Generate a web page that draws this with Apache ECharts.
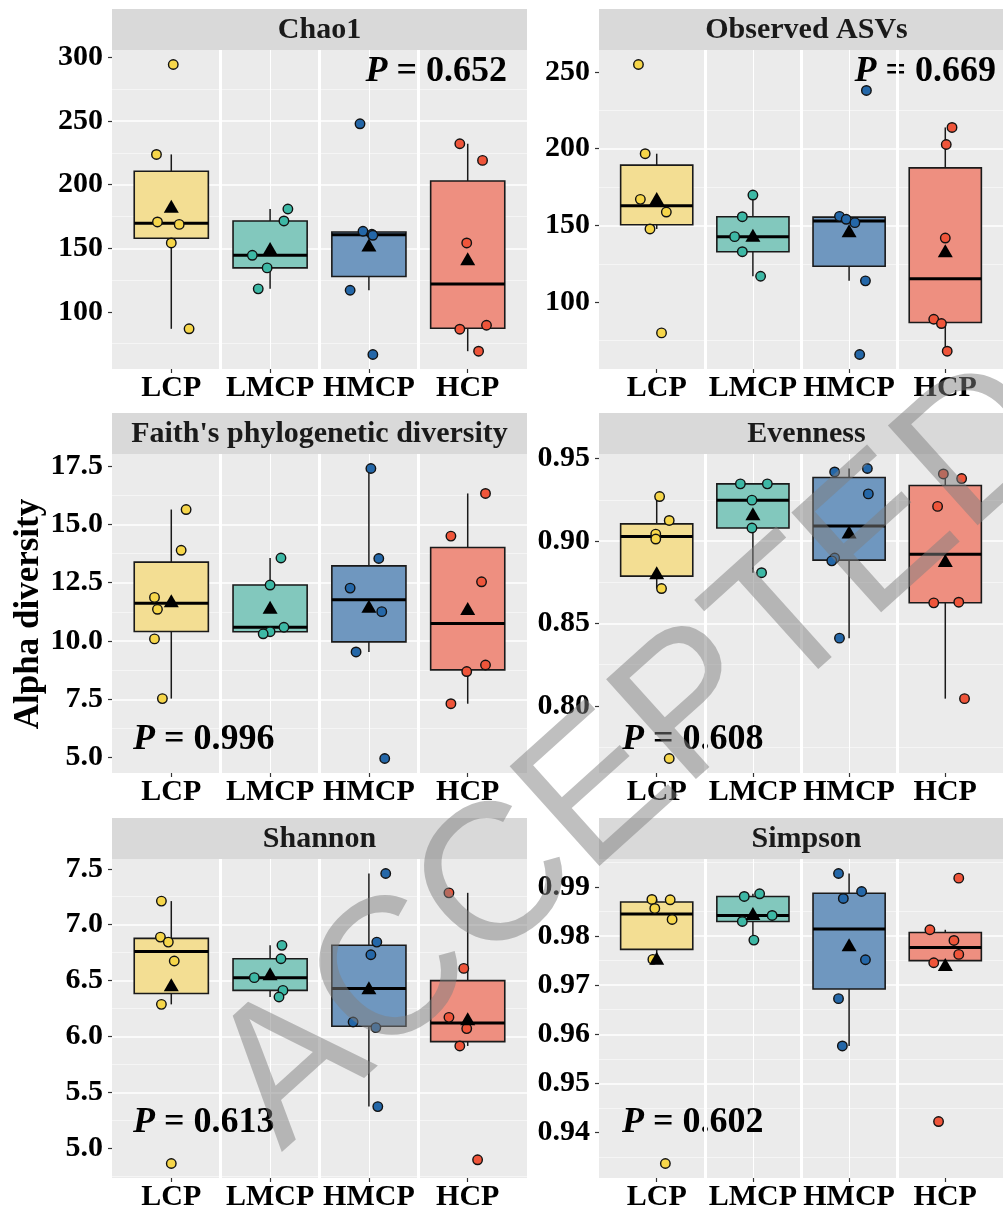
<!DOCTYPE html>
<html>
<head>
<meta charset="utf-8">
<script src="https://cdn.jsdelivr.net/npm/echarts@6/dist/echarts.min.js"></script>
<style>
  html, body { margin: 0; padding: 0; background: #fff; }
  #chart { width: 1003px; height: 1216px; }
</style>
</head>
<body>
<div id="chart"></div>
<script>
// groups on the x axis
const groups = ['LCP', 'LMCP', 'HMCP', 'HCP'];

// samples per group, and their horizontal jitter
const chao1 = [
  [294.5, 223.8, 170.7, 168.8, 154.2, 86.7],
  [180.9, 171.5, 144.5, 134.6, 118.1],
  [247.9, 163.4, 161.0, 160.2, 117.0, 66.5],
  [232.2, 219.1, 154.2, 86.4, 89.5, 69.1]
];
const chao1Jit = [
  [0.02, -0.15, -0.14, 0.08, 0.0, 0.18],
  [0.18, 0.14, -0.18, -0.03, -0.12],
  [-0.09, -0.06, 0.03, 0.04, -0.19, 0.04],
  [-0.08, 0.15, -0.01, -0.08, 0.19, 0.11]
];
const observed = [
  [254.8, 196.7, 167.0, 158.7, 147.7, 80.0],
  [169.8, 155.7, 142.7, 132.9, 116.9],
  [237.9, 155.9, 154.0, 151.8, 113.9, 65.95],
  [213.8, 202.7, 141.8, 88.9, 86.1, 68.1]
];
const observedJit = [
  [-0.19, -0.12, -0.17, 0.10, -0.07, 0.05],
  [0.0, -0.11, -0.19, -0.11, 0.08],
  [0.18, -0.10, -0.03, 0.06, 0.17, 0.11],
  [0.07, 0.01, 0.0, -0.12, -0.04, 0.02]
];
const faith = [
  [15.64, 13.89, 11.87, 11.36, 10.09, 7.53],
  [13.56, 12.40, 10.59, 10.40, 10.31],
  [17.40, 13.54, 12.27, 11.26, 9.53, 4.96],
  [16.33, 14.50, 12.54, 8.97, 8.69, 7.31]
];
const faithJit = [
  [0.15, 0.10, -0.17, -0.14, -0.17, -0.09],
  [0.11, 0.0, 0.14, 0.0, -0.07],
  [0.02, 0.10, -0.19, 0.13, -0.13, 0.16],
  [0.18, -0.17, 0.14, 0.18, -0.01, -0.17]
];
const evenness = [
  [0.9270, 0.9125, 0.9042, 0.9012, 0.8712, 0.7681],
  [0.9347, 0.9347, 0.9248, 0.9079, 0.8808],
  [0.9419, 0.9440, 0.9286, 0.8897, 0.8880, 0.8411],
  [0.9407, 0.9379, 0.9210, 0.8625, 0.8629, 0.8044]
];
const evennessJit = [
  [0.03, 0.13, -0.01, -0.01, 0.05, 0.13],
  [-0.13, 0.15, -0.01, -0.01, 0.09],
  [-0.15, 0.19, 0.20, -0.15, -0.18, -0.10],
  [-0.02, 0.17, -0.08, -0.12, 0.14, 0.20]
];
const shannon = [
  [7.211, 6.889, 6.844, 6.675, 6.287, 4.863],
  [6.815, 6.695, 6.526, 6.412, 6.353],
  [7.458, 6.844, 6.731, 6.129, 6.079, 5.372],
  [7.285, 6.609, 6.171, 6.070, 5.915, 4.896]
];
const shannonJit = [
  [-0.10, -0.11, -0.03, 0.03, -0.10, 0.0],
  [0.12, 0.11, -0.16, 0.13, 0.09],
  [0.17, 0.08, 0.02, -0.16, 0.07, 0.09],
  [-0.19, -0.04, -0.19, -0.01, -0.08, 0.10]
];
const simpson = [
  [0.98743, 0.98736, 0.98560, 0.98336, 0.97523, 0.93370],
  [0.98858, 0.98804, 0.98417, 0.98295, 0.97916],
  [0.99271, 0.98905, 0.98763, 0.97516, 0.96724, 0.95762],
  [0.99176, 0.98126, 0.97909, 0.97625, 0.97455, 0.94224]
];
const simpsonJit = [
  [-0.05, 0.14, -0.02, 0.16, -0.04, 0.09],
  [0.07, -0.09, 0.20, -0.11, 0.01],
  [-0.11, 0.13, -0.06, 0.17, -0.11, -0.07],
  [0.14, -0.16, 0.09, 0.14, -0.12, -0.07]
];

// y tick labels per panel
const chao1Ticks = ['100', '150', '200', '250', '300'];
const observedTicks = ['100', '150', '200', '250'];
const faithTicks = ['5.0', '7.5', '10.0', '12.5', '15.0', '17.5'];
const evennessTicks = ['0.80', '0.85', '0.90', '0.95'];
const shannonTicks = ['5.0', '5.5', '6.0', '6.5', '7.0', '7.5'];
const simpsonTicks = ['0.94', '0.95', '0.96', '0.97', '0.98', '0.99'];

const titles = ['Chao1', 'Observed ASVs', "Faith's phylogenetic diversity", 'Evenness', 'Shannon', 'Simpson'];
const pValues = ['0.652', '0.669', '0.996', '0.608', '0.613', '0.602'];

const panelData = [chao1, observed, faith, evenness, shannon, simpson];
const panelJit = [chao1Jit, observedJit, faithJit, evennessJit, shannonJit, simpsonJit];
const panelTicks = [chao1Ticks, observedTicks, faithTicks, evennessTicks, shannonTicks, simpsonTicks];

// look
const pointColors = ['#F6D64A', '#3DB8A5', '#2467A8', '#EF553A'];
const boxColors = ['#F3DE93', '#82C8BD', '#6F97BF', '#EE8F80'];
const serif = '"Liberation Serif", "Times New Roman", serif';

// layout
const colX = [112, 599];
const rowY = [50, 454, 859];
const plotW = 415;
const plotH = 319;
const stripH = 41;
// P label anchors: [x, y, align]
const pPos = [
  [507, 72, 'right'], [996, 72, 'right'],
  [133, 740, 'left'], [622, 740, 'left'],
  [133, 1123, 'left'], [622, 1123, 'left']
];

function quantile(s, p) {
  const h = (s.length - 1) * p;
  const lo = Math.floor(h);
  const hi = Math.min(lo + 1, s.length - 1);
  return s[lo] + (h - lo) * (s[hi] - s[lo]);
}

function boxStats(vals) {
  const s = vals.slice().sort((a, b) => a - b);
  const q1 = quantile(s, 0.25), md = quantile(s, 0.5), q3 = quantile(s, 0.75);
  const iqr = q3 - q1;
  const inside = s.filter(v => v >= q1 - 1.5 * iqr && v <= q3 + 1.5 * iqr);
  return [inside[0], q1, md, q3, inside[inside.length - 1]];
}

function renderBox(params, api) {
  const x = api.value(0);
  const lo = api.coord([x, api.value(1)]);
  const q1 = api.coord([x, api.value(2)]);
  const md = api.coord([x, api.value(3)]);
  const q3 = api.coord([x, api.value(4)]);
  const hi = api.coord([x, api.value(5)]);
  const half = api.size([0.75, 0])[0] / 2;
  const line = { stroke: '#1a1a1a', lineWidth: 1.5 };
  return {
    type: 'group',
    children: [
      { type: 'line', shape: { x1: lo[0], y1: lo[1], x2: q1[0], y2: q1[1] }, style: line },
      { type: 'line', shape: { x1: q3[0], y1: q3[1], x2: hi[0], y2: hi[1] }, style: line },
      { type: 'rect', shape: { x: q1[0] - half, y: q3[1], width: 2 * half, height: q1[1] - q3[1] },
        style: { fill: boxColors[params.dataIndex], stroke: '#1a1a1a', lineWidth: 1.6 } },
      { type: 'line', shape: { x1: md[0] - half, y1: md[1], x2: md[0] + half, y2: md[1] },
        style: { stroke: '#000', lineWidth: 3 } }
    ]
  };
}

const grids = [], xAxes = [], yAxes = [], series = [], graphics = [];

panelData.forEach((data, k) => {
  const left = colX[k % 2];
  const top = rowY[Math.floor(k / 2)];
  const ticks = panelTicks[k];
  const tickVals = ticks.map(Number);
  const step = +(tickVals[1] - tickVals[0]).toFixed(6);
  const all = data.flat();
  const dMin = Math.min(...all), dMax = Math.max(...all);
  const pad = (dMax - dMin) * 0.05;

  grids.push({ left: left, top: top, width: plotW, height: plotH, show: true,
    backgroundColor: '#EBEBEB', borderWidth: 0, containLabel: false });

  xAxes.push({
    type: 'value', gridIndex: k, min: -0.6, max: 3.6, minInterval: 1, maxInterval: 1,
    axisLine: { show: false, onZero: false },
    axisTick: { show: true, length: 4, customValues: [0, 1, 2, 3], lineStyle: { color: '#333', width: 1.2 } },
    axisLabel: { customValues: [0, 1, 2, 3], formatter: v => groups[Math.round(v)], margin: 4,
      color: '#000', fontFamily: serif, fontWeight: 'bold', fontSize: 30 },
    splitLine: { show: true, showMinLine: false, showMaxLine: false, lineStyle: { color: '#fff', width: 1 } }
  });

  yAxes.push({
    type: 'value', gridIndex: k, min: dMin - pad, max: dMax + pad,
    minInterval: step, maxInterval: step,
    axisLine: { show: false, onZero: false },
    axisTick: { show: true, length: 4, customValues: tickVals, lineStyle: { color: '#333', width: 1.2 } },
    axisLabel: { customValues: tickVals, margin: 9, color: '#000', fontFamily: serif, fontWeight: 'bold', fontSize: 30,
      formatter: v => { const i = tickVals.findIndex(t => Math.abs(t - v) < step / 100); return i < 0 ? '' : ticks[i]; } },
    splitLine: { show: true, showMinLine: false, showMaxLine: false, lineStyle: { color: '#fff', width: 1.6 } },
    minorTick: { show: false, splitNumber: 2 },
    minorSplitLine: { show: true, lineStyle: { color: '#F7F7F7', width: 0.8 } }
  });

  series.push({
    type: 'custom', xAxisIndex: k, yAxisIndex: k, silent: true, z: 2,
    renderItem: renderBox,
    data: data.map((vals, i) => [i].concat(boxStats(vals))),
    markLine: {
      silent: true, symbol: ['none', 'none'], label: { show: false }, animation: false,
      lineStyle: { color: '#fff', width: 3, type: 'solid' },
      data: [{ xAxis: 0.5 }, { xAxis: 1.5 }, { xAxis: 2.5 }]
    }
  });

  const pts = [];
  data.forEach((vals, i) => vals.forEach((v, j) => {
    pts.push({ value: [i + panelJit[k][i][j], v], itemStyle: { color: pointColors[i] } });
  }));
  series.push({
    type: 'scatter', xAxisIndex: k, yAxisIndex: k, silent: true, z: 3,
    symbol: 'circle', symbolSize: 9.5,
    itemStyle: { borderColor: '#111', borderWidth: 1.4, opacity: 1 },
    data: pts
  });

  series.push({
    type: 'scatter', xAxisIndex: k, yAxisIndex: k, silent: true, z: 4,
    symbol: 'triangle', symbolSize: [15, 13],
    itemStyle: { color: '#000', opacity: 1 },
    data: data.map((vals, i) => [i, vals.reduce((a, b) => a + b, 0) / vals.length])
  });

  // facet strip
  graphics.push({ type: 'rect', z: 1, shape: { x: left, y: top - stripH, width: plotW, height: stripH },
    style: { fill: '#D9D9D9' } });
  graphics.push({ type: 'text', z: 2, x: left + plotW / 2, y: top - stripH / 2 + 1,
    style: { text: titles[k], fill: '#1a1a1a', font: 'bold 30px ' + serif, align: 'center', verticalAlign: 'middle' } });

  // P value
  const pp = pPos[k];
  graphics.push({ type: 'text', z: 5, x: pp[0], y: pp[1],
    style: { text: '{i|P} = ' + pValues[k], fill: '#000', font: 'bold 36px ' + serif,
      align: pp[2], verticalAlign: 'middle',
      rich: { i: { fontStyle: 'italic', fontWeight: 'bold', fontSize: 36, fontFamily: serif, fill: '#000' } } } });
});

// shared y title
graphics.push({ type: 'text', z: 5, x: 29, y: 614, rotation: Math.PI / 2,
  style: { text: 'Alpha diversity', fill: '#000', font: 'bold 35px ' + serif, align: 'center', verticalAlign: 'middle' } });

// watermark over the figure
graphics.push({ type: 'text', z: 100, x: 640, y: 757, rotation: 42 * Math.PI / 180,
  style: { text: 'ACCEPTED', fill: 'rgba(128,128,128,0.5)', font: '195px "Liberation Sans", Arial, sans-serif',
    align: 'center', verticalAlign: 'middle' } });

const chart = echarts.init(document.getElementById('chart'));
chart.setOption({
  animation: false,
  backgroundColor: '#fff',
  grid: grids,
  xAxis: xAxes,
  yAxis: yAxes,
  series: series,
  graphic: { elements: graphics }
});
</script>
</body>
</html>
